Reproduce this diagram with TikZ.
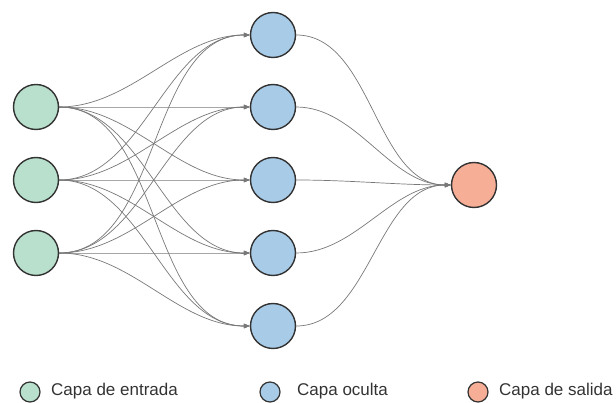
\documentclass[tikz,border=0pt]{standalone}
\usepackage{fontspec}
\setmainfont{Liberation Sans}
\usetikzlibrary{arrows.meta}
\definecolor{cin}{RGB}{184,224,204}
\definecolor{chid}{RGB}{168,204,232}
\definecolor{cout}{RGB}{247,174,150}
\definecolor{edgegray}{RGB}{120,120,120}
\definecolor{ringgray}{RGB}{51,51,51}
\tikzset{
  neuron/.style={circle,draw=ringgray,line width=1.4pt,minimum size=45pt,inner sep=0pt},
  inneur/.style={neuron,fill=cin},
  hidneur/.style={neuron,fill=chid},
  outneur/.style={neuron,fill=cout},
  legcirc/.style={circle,draw=ringgray,line width=1.2pt,minimum size=20pt,inner sep=0pt},
  legtext/.style={anchor=west,inner sep=0pt,font=\fontsize{17}{20}\selectfont,text=black!80},
  conn/.style={draw=edgegray,line width=0.7pt,-{Triangle[length=6pt,width=4.5pt]},out=0,in=180,looseness=0.9}
}
\begin{document}
\begin{tikzpicture}[x=1pt,y=-1pt]
\useasboundingbox (0,0) rectangle (616,403);
\foreach \i/\y in {1/107,2/180,3/253} \node[inneur] (i\i) at (36,\y) {};
\foreach \j/\y in {1/35,2/107,3/180,4/253,5/326} \node[hidneur] (h\j) at (273,\y) {};
\node[outneur] (o) at (474,185) {};
\foreach \i in {1,2,3}
  \foreach \j in {1,...,5}
    \draw[conn] (i\i.east) to (h\j.west);
\foreach \j in {1,...,5}
  \draw[conn] (h\j.east) to (o.west);
\node[legcirc,fill=cin] (l1) at (30,392) {};
\node[legtext] (t1) at (51,391) {Capa de entrada};
\node[legcirc,fill=chid] (l2) at (270,392) {};
\node[legtext] (t2) at (297,391) {Capa oculta};
\node[legcirc,fill=cout] (l3) at (478,392) {};
\node[legtext] (t3) at (499,391) {Capa de salida};
\end{tikzpicture}
\end{document}
